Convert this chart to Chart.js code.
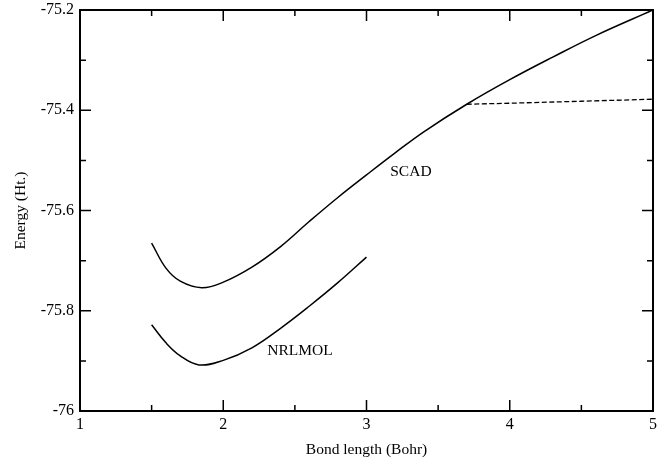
<!DOCTYPE html>
<html>
<head>
<meta charset="utf-8">
<script src="https://cdn.jsdelivr.net/npm/chart.js@4.4.1/dist/chart.umd.min.js"></script>
<style>
  html, body { margin: 0; padding: 0; background: #fff; }
  #wrap { width: 670px; height: 468px; }
</style>
</head>
<body>
<div id="wrap"><canvas id="energy-chart" width="670" height="468"></canvas></div>
<script>
// Bond length (Bohr) vs energy (Ht.)
const scadX = [1.5, 1.6, 1.7, 1.85, 2.0, 2.2, 2.4, 2.6, 2.8, 3.0, 3.2, 3.4, 3.7, 4.0, 4.3, 4.6, 5.0];
const scadY = [-75.665, -75.715, -75.741, -75.754, -75.743, -75.713, -75.672, -75.622, -75.574, -75.529, -75.485, -75.443, -75.388, -75.339, -75.294, -75.251, -75.200];

const brokenX = [3.7, 4.0, 4.5, 5.0];
const brokenY = [-75.388, -75.386, -75.382, -75.378];

const nrlX = [1.5, 1.6, 1.7, 1.83, 2.0, 2.2, 2.4, 2.6, 2.8, 3.0];
const nrlY = [-75.828, -75.864, -75.890, -75.908, -75.899, -75.874, -75.835, -75.791, -75.744, -75.693];

const xTicks = [1, 2, 3, 4, 5];
const yTicks = [-76, -75.8, -75.6, -75.4, -75.2];

const curveLabels = [
  { text: "SCAD", x: 3.31, y: -75.523 },
  { text: "NRLMOL", x: 2.536, y: -75.880 }
];

const serif = "'Liberation Serif', 'Times New Roman', serif";

let toPoints = (xs, ys) => xs.map((x, i) => ({ x: x, y: ys[i] }));

// inward ticks on all four sides + frame
const frameTicks = {
  id: "frameTicks",
  afterDraw(chart) {
    const c = chart.ctx, a = chart.chartArea;
    const sx = chart.scales.x, sy = chart.scales.y;
    c.save();
    c.strokeStyle = "#000";
    c.lineWidth = 1.5;
    for (let v = 1; v <= 5.0001; v += 0.5) {
      let px = sx.getPixelForValue(v);
      let len = Math.abs(v - Math.round(v)) < 1e-6 ? 11 : 6;
      c.beginPath();
      c.moveTo(px, a.bottom); c.lineTo(px, a.bottom - len);
      c.moveTo(px, a.top); c.lineTo(px, a.top + len);
      c.stroke();
    }
    for (let k = 0; k <= 8; k++) {
      let v = -76 + k * 0.1;
      let py = sy.getPixelForValue(v);
      let len = k % 2 === 0 ? 11 : 6;
      c.beginPath();
      c.moveTo(a.left, py); c.lineTo(a.left + len, py);
      c.moveTo(a.right, py); c.lineTo(a.right - len, py);
      c.stroke();
    }
    c.lineWidth = 2;
    c.strokeRect(a.left, a.top, a.right - a.left, a.bottom - a.top);
    // curve names
    c.fillStyle = "#000";
    c.font = "15.5px " + serif;
    c.textAlign = "center";
    c.textBaseline = "middle";
    for (let l of curveLabels) {
      c.fillText(l.text, sx.getPixelForValue(l.x), sy.getPixelForValue(l.y));
    }
    c.restore();
  }
};

const lineStyle = {
  borderColor: "#000",
  borderWidth: 1.5,
  pointRadius: 0,
  fill: false,
  tension: 0.4
};

new Chart(document.querySelector("#energy-chart"), {
  type: "line",
  data: {
    datasets: [
      Object.assign({ label: "SCAD", data: toPoints(scadX, scadY) }, lineStyle),
      Object.assign({ label: "SCAD broken", data: toPoints(brokenX, brokenY), borderDash: [5, 2.5] }, lineStyle, { borderWidth: 1.3, tension: 0 }),
      Object.assign({ label: "NRLMOL", data: toPoints(nrlX, nrlY) }, lineStyle)
    ]
  },
  options: {
    responsive: false,
    animation: false,
    layout: { padding: { top: 10, right: 17, left: 0, bottom: 0 } },
    plugins: { legend: { display: false }, tooltip: { enabled: false } },
    scales: {
      x: {
        type: "linear",
        min: 1, max: 5,
        afterFit: s => { s.height = 57; },
        afterBuildTicks: s => { s.ticks = xTicks.map(v => ({ value: v })); },
        grid: { display: false, drawTicks: false },
        border: { display: false },
        ticks: { color: "#000", padding: 4, font: { family: serif, size: 16 }, maxRotation: 0 },
        title: { display: true, text: "Bond length (Bohr)", color: "#000", font: { family: serif, size: 15.5 }, padding: { top: 0, bottom: 9 } }
      },
      y: {
        type: "linear",
        min: -76, max: -75.2,
        afterFit: s => { s.width = 80; s.paddingTop = 0; s.paddingBottom = 0; },
        afterBuildTicks: s => { s.ticks = yTicks.map(v => ({ value: v })); },
        grid: { display: false, drawTicks: false },
        border: { display: false },
        ticks: { color: "#000", padding: 6, font: { family: serif, size: 16 },
                 callback: v => String(Number(v.toFixed(1))) },
        title: { display: true, text: "Energy (Ht.)", color: "#000", font: { family: serif, size: 15.5 }, padding: { top: 12, bottom: 0 } }
      }
    }
  },
  plugins: [frameTicks]
});
</script>
</body>
</html>
